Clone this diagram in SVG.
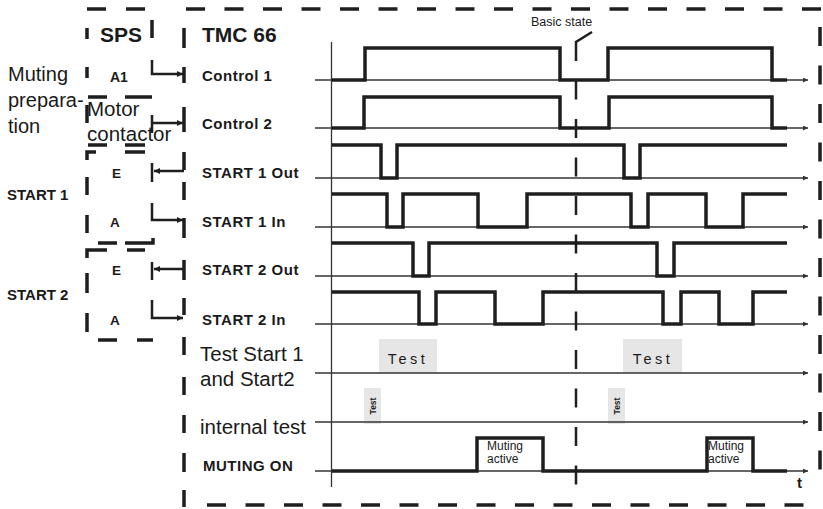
<svg xmlns="http://www.w3.org/2000/svg" width="823" height="509" viewBox="0 0 823 509">
<defs>
<marker id="ah" viewBox="0 0 10 10" refX="10" refY="5" markerWidth="9" markerHeight="6" markerUnits="userSpaceOnUse" orient="auto"><path d="M0,0 L10,5 L0,10 z" fill="#1e1e1e"/></marker>
<marker id="ta" viewBox="0 0 10 10" refX="10" refY="5" markerWidth="9" markerHeight="5" markerUnits="userSpaceOnUse" orient="auto"><path d="M0,0 L10,5 L0,10 z" fill="#333"/></marker>
<style>
.fr{stroke:#1e1e1e;stroke-width:3.5;fill:none}
.cn{stroke:#1e1e1e;stroke-width:2.5;fill:none}
.bl{stroke:#333;stroke-width:1.3;fill:none;marker-end:url(#ta)}
.sg{stroke:#1e1e1e;stroke-width:3.5;fill:none;stroke-linejoin:miter}
.t{font-family:"Liberation Sans",Arial,sans-serif;fill:#1a1a1a}
.b{font-weight:bold}
.lb{font-size:15px;font-weight:bold;letter-spacing:0.5px}
.tb{fill:#e6e6e6}
.ma{font-size:12px}
</style>
</defs>
<rect width="823" height="509" fill="#fff"/>

<g id="frame">
<path class="fr" d="M186,9 H821" stroke-dasharray="19 19.5"/>
<path class="fr" d="M820,27 V473" stroke-dasharray="19 19.5"/>
<path class="fr" d="M207,505 H805" stroke-dasharray="19 19.5"/>
<path class="fr" d="M184,28 V48 M184,67 V83 M184,107 V132 M184,152 V170 M184,182 V200 M184,218 V238 M184,260 V280 M184,298 V315 M184,337 V355 M184,377 V395 M184,415 V433 M184,453 V472 M184,490 V507"/>
</g>

<g id="sps">
<path class="fr" d="M87,9 H106 M126,9 H145 M87,28 V39 M87,67 V78 M87,105 V123 M152,20 V38 M88,97 H107 M125,97 H152 M88,145 H107 M125,145 H145 M96,152 H87 V160 M125,152 H145 M87,177 V195 M87,215 V233 M98,243 H117 M125,243 H153 V238 M107,250 H87 V258 M127,250 H145 M87,273 V293 M87,313 V332 M98,340 H117 M137,340 H153"/>
<text class="t b" x="100" y="42" font-size="21">SPS</text>
<text class="t b" x="110" y="82" font-size="14">A1</text>
<text class="t b" x="112" y="178" font-size="13.5">E</text>
<text class="t b" x="110" y="227" font-size="13.5">A</text>
<text class="t b" x="112" y="275" font-size="13.5">E</text>
<text class="t b" x="110" y="325" font-size="13.5">A</text>
</g>

<g id="left-labels">
<text class="t" x="8" y="81" font-size="20">Muting</text>
<text class="t" x="8" y="107" font-size="20">prepara-</text>
<text class="t" x="8" y="133" font-size="20">tion</text>
<text class="t" x="87" y="116" font-size="20.5">Motor</text>
<text class="t" x="87" y="141" font-size="20.5">contactor</text>
<text class="t b" x="7" y="200" font-size="15">START 1</text>
<text class="t b" x="7" y="300" font-size="15">START 2</text>
</g>

<g id="connectors">
<path class="cn" d="M152,60 V74 H183" marker-end="url(#ah)"/>
<path class="cn" d="M152,115 V133"/>
<path class="cn" d="M152,123 H183" marker-end="url(#ah)"/>
<path class="cn" d="M152,163 V182"/>
<path class="cn" d="M184,171 H154" marker-end="url(#ah)"/>
<path class="cn" d="M152,203 V220 H183" marker-end="url(#ah)"/>
<path class="cn" d="M152,262 V280"/>
<path class="cn" d="M184,269 H154" marker-end="url(#ah)"/>
<path class="cn" d="M152,300 V318 H183" marker-end="url(#ah)"/>
</g>

<g id="tmc">
<text class="t b" x="202" y="42" font-size="21">TMC 66</text>
<text class="t lb" x="202" y="81">Control 1</text>
<text class="t lb" x="202" y="129">Control 2</text>
<text class="t lb" x="202" y="178">START 1 Out</text>
<text class="t lb" x="202" y="227">START 1 In</text>
<text class="t lb" x="202" y="275">START 2 Out</text>
<text class="t lb" x="202" y="325">START 2 In</text>
<text class="t" x="200" y="361" font-size="20.5">Test Start 1</text>
<text class="t" x="200" y="386" font-size="20.5">and Start2</text>
<text class="t" x="200" y="434" font-size="20.5">internal test</text>
<text class="t lb" x="203" y="471">MUTING ON</text>
</g>

<g id="test-boxes">
<rect class="tb" x="379" y="339" width="58" height="34"/>
<text class="t" x="408" y="364" font-size="14.5" letter-spacing="3.5" text-anchor="middle">Test</text>
<rect class="tb" x="623" y="339" width="59" height="34"/>
<text class="t" x="653" y="364" font-size="14.5" letter-spacing="3.5" text-anchor="middle">Test</text>
<rect class="tb" x="364" y="388" width="17" height="36"/>
<text class="t b" font-size="8.5" text-anchor="middle" transform="translate(375.5,406) rotate(-90)">Test</text>
<rect class="tb" x="608" y="388" width="17" height="36"/>
<text class="t b" font-size="8.5" text-anchor="middle" transform="translate(619.5,406) rotate(-90)">Test</text>
</g>

<g id="axes">
<path stroke="#333" stroke-width="1.3" d="M331.5,42 V487"/>
<path class="bl" d="M315,80 H808"/>
<path class="bl" d="M315,128 H808"/>
<path class="bl" d="M315,178 H808"/>
<path class="bl" d="M315,227 H808"/>
<path class="bl" d="M315,276 H808"/>
<path class="bl" d="M315,324 H808"/>
<path class="bl" d="M315,373 H808"/>
<path class="bl" d="M315,422 H808"/>
<path class="bl" d="M315,471 H808"/>
<text class="t b" x="797" y="488" font-size="15">t</text>
</g>

<g id="signals">
<path class="sg" d="M332,80 H365 V48 H560 V80 H608 V48 H772 V80 H787"/>
<path class="sg" d="M332,128 H364 V97 H560 V128 H609 V97 H772 V128 H787"/>
<path class="sg" d="M332,145 H381 V178 H397 V145 H624 V178 H640 V145 H787"/>
<path class="sg" d="M332,194 H387 V227 H403 V194 H478 V227 H527 V194 H631 V227 H648 V194 H706 V227 H743 V194 H787"/>
<path class="sg" d="M332,243 H413 V276 H429 V243 H657 V276 H674 V243 H787"/>
<path class="sg" d="M332,292 H419 V324 H436 V292 H495 V324 H543 V292 H663 V324 H681 V292 H719 V324 H753 V292 H787"/>
<path class="sg" d="M332,471 H477 V438 H543 V471 H707 V438 H753 V471 H787"/>
<text class="t ma" x="487" y="450">Muting</text>
<text class="t ma" x="487" y="463">active</text>
<text class="t ma" x="708" y="450">Muting</text>
<text class="t ma" x="708" y="463">active</text>
</g>

<g id="basic-state">
<text class="t" x="531" y="26" font-size="12.5">Basic state</text>
<path class="cn" stroke-width="3" d="M592,32 L576,42 V61"/>
<path class="cn" stroke-width="3" d="M576,80.5 V485" stroke-dasharray="19 19.5"/>
</g>
</svg>
